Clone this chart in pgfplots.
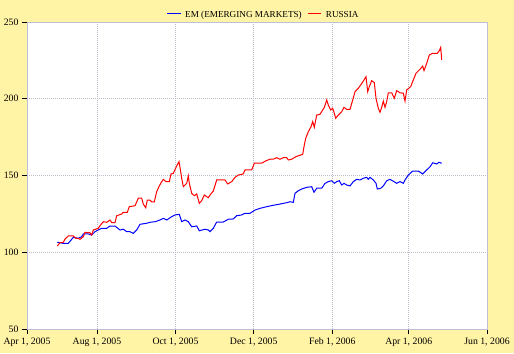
\documentclass[border=0pt]{standalone}
\usepackage{pgfplots}
\pgfplotsset{compat=1.18}
\usepackage{fontspec}
\setmainfont{Liberation Serif}
\definecolor{bgy}{HTML}{FFF3A6}
\definecolor{gridc}{HTML}{BCBCCA}
\definecolor{framec}{HTML}{BEBED6}
\begin{document}
\begin{tikzpicture}[x=1bp,y=1bp]
\path[use as bounding box, fill=bgy] (-27,-24) rectangle (487,329);
\begin{axis}[
  at={(0,0)}, anchor=south west,
  scale only axis, width=460bp, height=307bp,
  axis background/.style={fill=white},
  xmin=27, xmax=487, ymin=50, ymax=250,
  ytick={50,100,150,200,250},
  xtick={27,97,175.5,253.7,332.3,408.7,487},
  xticklabels={{Apr 1, 2005},{Aug 1, 2005},{Oct 1, 2005},{Dec 1, 2005},{Feb 1, 2006},{Apr 1, 2006},{Jun 1, 2006}},
  grid=major,
  major grid style={gridc, line width=0.8bp, dash pattern=on 1bp off 1bp},
  axis line style={framec, line width=0.8bp},
  tick style={black, line width=0.8bp},
  tick align=outside, major tick length=5bp,
  xtick pos=bottom, ytick pos=left,
  tick label style={font=\fontsize{9.8}{11}\selectfont},
  /pgf/number format/assume math mode=true,
]
\addplot[blue, line width=1bp] coordinates {
(57.3,106.5)(63.3,105.8)(68.3,105.8)(73.3,109.7)(78.3,109.1)(81.7,110.1)(83.3,111.9)(88.3,111.9)
(91.7,111.2)(95,113.4)(98.3,114.5)(101.7,115.6)(106.7,115.6)(110,117.1)(115,117.1)(120,114.5)
(123.3,115.0)(126.7,113.4)(130,113.4)(133.3,112.3)(136.7,114.5)(140,118.2)(146.7,118.9)(150,119.5)
(155,119.9)(160,121.0)(163.3,122.1)(166.7,121.0)(171.7,123.2)(175,124.3)(179.3,124.7)(181.7,119.9)
(185,121.0)(188.3,119.9)(191.7,116.6)(196.7,117.1)(199.3,114.0)(205,115.0)(208.3,114.5)(210,113.4)
(213.3,115.6)(216.7,119.7)(223.3,119.7)(228.3,121.5)(233.3,121.7)(236.7,123.8)(241.7,124.3)(245,125.4)
(250,125.4)(255,127.5)(260,128.6)(266.7,129.7)(273.3,130.6)(280,131.4)(286.7,132.3)(290,132.9)
(293.3,132.5)(295,138.4)(298.3,140.1)(301.7,141.2)(306.7,142.3)(311.7,142.7)(314,139.1)(316.7,141.7)
(321.7,141.7)(325,144.9)(328.3,146.0)(331.7,146.6)(334.3,144.9)(336.7,146.0)(339.3,146.6)(341.7,143.8)
(344,144.9)(346.7,143.8)(350,143.2)(353.3,146.0)(356.7,147.5)(360,147.1)(363.3,148.2)(366.7,148.8)
(368.3,147.5)(370,148.8)(373.3,147.1)(376,144.9)(377.3,141.2)(380.7,141.7)(383.3,143.2)(386.7,146.6)
(390,147.5)(394,146.0)(396.7,144.9)(400,146.0)(403.3,144.9)(405,147.1)(408.3,150.3)(412.7,152.9)
(418.3,152.9)(422.7,151.0)(426.7,153.6)(430,155.7)(432.7,158.3)(436.7,157.5)(439,158.6)(441.7,158.0)
};
\addplot[red, line width=1bp] coordinates {
(57.3,104.1)(60,106.2)(63.3,106.5)(65,108.6)(68.3,110.6)(73.3,110.6)(76,109.1)(78.3,109.1)
(80,108.4)(83.3,110.1)(85,113.0)(90,112.7)(91.7,111.2)(93.3,114.5)(98.3,115.6)(100,117.3)
(103.3,119.9)(106.7,119.5)(110,121.0)(111.7,119.3)(115,119.3)(116.7,123.8)(121.7,124.9)(123.3,126.0)
(127.3,126.0)(129.3,129.7)(135,130.3)(138.3,135.2)(141.7,135.2)(143.3,131.4)(145.7,129.0)(147.3,134.0)
(150,134.0)(151.7,132.9)(154.3,132.9)(156.7,139.5)(159.3,143.2)(160.7,144.9)(163.3,147.5)(166,146.0)
(169.3,146.0)(171,151.0)(173.3,151.4)(176,155.3)(179,159.0)(180,155.3)(181.7,148.2)(183.3,142.7)
(186.7,144.9)(188.3,149.7)(189.3,144.9)(191.7,138.4)(194.3,136.8)(196.7,138.0)(199.3,131.9)(201.7,133.6)
(204.3,137.3)(206.7,136.2)(208.3,135.5)(210,137.3)(213.3,139.9)(216.7,147.1)(221.7,147.1)(225,147.1)
(227.7,144.5)(231.7,146.0)(235,148.8)(238.3,150.3)(243.3,151.0)(245,153.6)(251.7,153.6)(254.3,158.0)
(261.7,158.0)(266,159.6)(270,160.6)(273.3,160.6)(276.7,161.6)(280,160.6)(283.3,161.6)(286.7,161.6)
(288.3,160.1)(291.7,160.6)(296,162.3)(300,163.2)(302.7,163.8)(304,168.8)(305.7,174.2)(308.3,178.5)
(311,181.8)(312.7,185.1)(314.3,181.4)(316.7,189.4)(320,189.9)(322.7,192.7)(324.3,194.4)(326.7,199.2)
(328.3,195.9)(330.7,192.7)(332.7,193.8)(334.3,190.5)(335.7,187.3)(338.3,189.4)(341.7,191.6)(344,194.4)
(346.7,193.1)(350,193.1)(352.7,199.2)(355,204.6)(358.3,206.8)(360.7,209.0)(364,212.2)(366,214.4)
(367.7,204.6)(369.3,207.9)(371.7,211.8)(374.3,210.5)(376,200.3)(378.3,193.8)(380,191.2)(381.7,194.4)
(383.3,198.5)(385,194.4)(386.7,198.1)(388.3,203.9)(391.7,203.9)(394.3,200.3)(396.7,205.3)(400,203.9)
(403.3,203.6)(405,198.5)(406.7,205.7)(410.7,207.9)(413.3,212.2)(416,216.6)(420,219.2)(422.7,221.3)
(424,218.3)(426.7,223.1)(429.3,228.5)(432.7,229.6)(437.3,229.6)(439.3,231.3)(440.7,233.5)(441.7,225.3)
};
\end{axis}
% legend
\draw[blue, line width=1bp] (140.3,315.3) -- (153.7,315.3);
\node[anchor=base west, inner sep=0pt, font=\fontsize{9.2}{10}\selectfont] at (158,312) {EM (EMERGING MARKETS)};
\draw[red, line width=1bp] (280.7,315.3) -- (294,315.3);
\node[anchor=base west, inner sep=0pt, font=\fontsize{9.2}{10}\selectfont] at (298.7,312) {RUSSIA};
\end{tikzpicture}
\end{document}
